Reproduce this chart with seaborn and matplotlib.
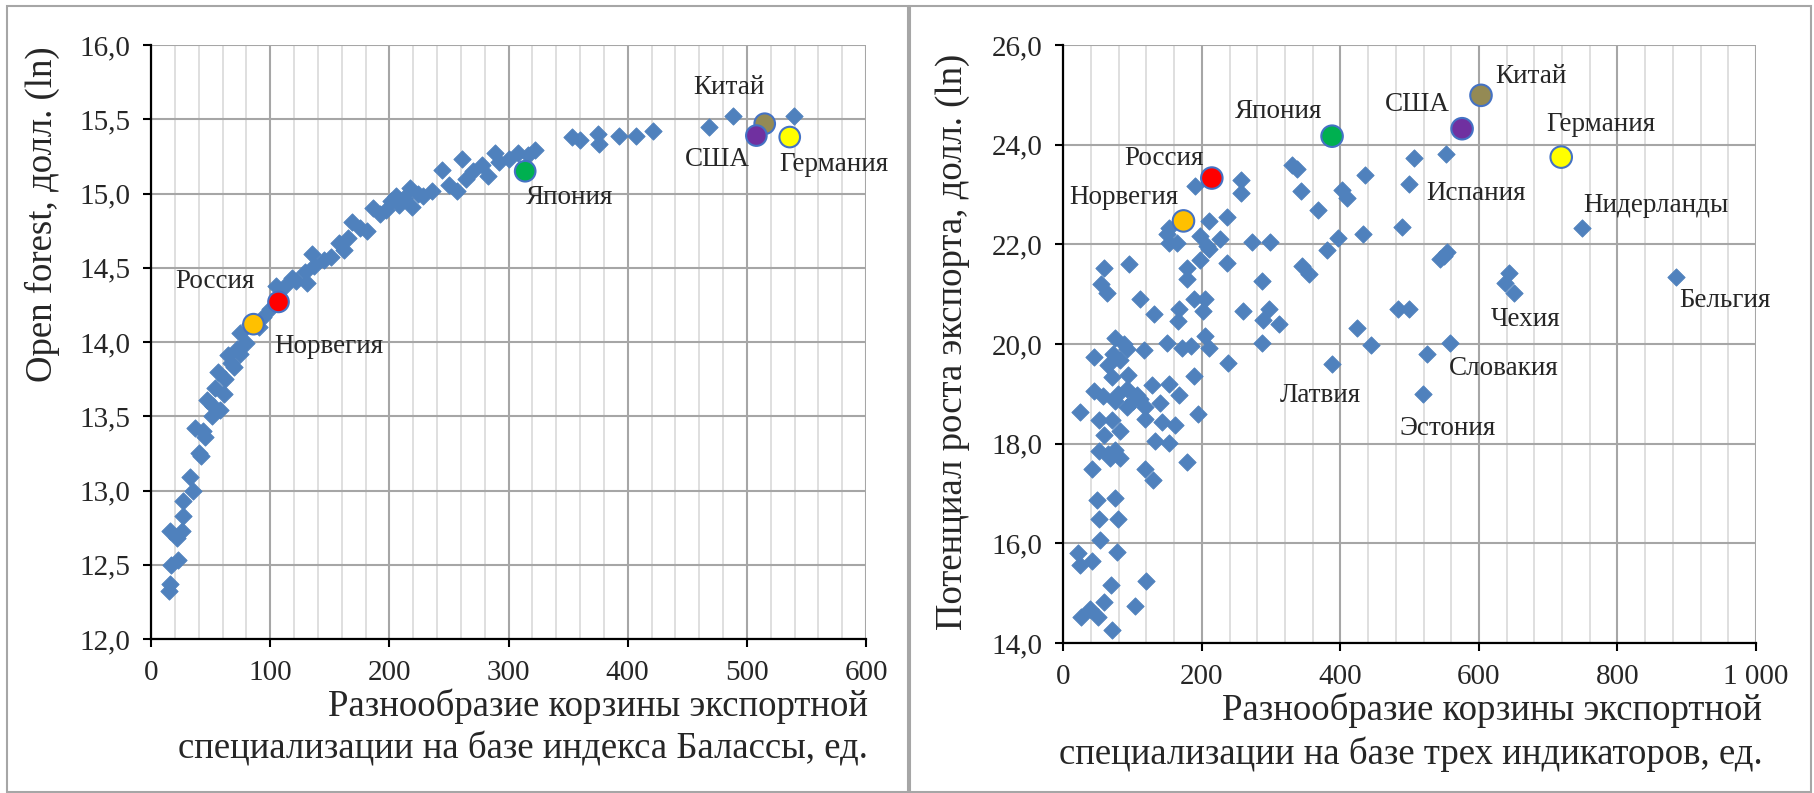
import matplotlib
matplotlib.use("Agg")
import matplotlib.pyplot as plt
import seaborn as sns
import pandas as pd
from matplotlib.ticker import MultipleLocator, FixedLocator, FixedFormatter
from matplotlib.patches import Rectangle

# ---------------- data: left panel (Balassa index vs Open forest) ----------------
left_x = [15, 16, 17, 23, 16, 22, 26, 27, 27, 33, 35.5, 40, 42, 37, 45, 47, 51, 58, 54, 61,
          56, 62, 65, 70, 75, 75, 80, 83, 91, 94, 100, 105, 112, 122, 129, 131, 135, 137, 151, 158,
          162, 169, 181, 186, 197, 206, 208, 217, 219, 228, 236, 244, 257, 261, 264, 278,
          283, 289, 292, 308, 322, 353, 360, 375, 376, 393, 407, 421, 468, 488, 539.5,
          44, 52, 67, 72, 118, 145, 165, 175, 192, 201, 212, 224, 250, 270, 300, 316]
left_y = [12.32, 12.37, 12.50, 12.53, 12.73, 12.68, 12.73, 12.83, 12.93, 13.09, 13.00, 13.25, 13.23,
          13.42, 13.36, 13.61, 13.50, 13.54, 13.69, 13.65, 13.80, 13.75, 13.91, 13.83, 13.92, 14.06,
          13.99, 14.12, 14.10, 14.17, 14.22, 14.38, 14.37, 14.41, 14.47, 14.40, 14.59, 14.51, 14.57,
          14.67, 14.62, 14.81, 14.75, 14.90, 14.89, 14.98, 14.92, 15.04, 14.91, 14.98, 15.02, 15.16,
          15.02, 15.23, 15.10, 15.19, 15.12, 15.27, 15.21, 15.27, 15.29, 15.38, 15.36, 15.40, 15.33,
          15.39, 15.39, 15.42, 15.45, 15.52, 15.52,
          13.40, 13.57, 13.86, 13.95, 14.43, 14.55, 14.70, 14.77, 14.86, 14.95, 14.97, 15.00,
          15.06, 15.15, 15.23, 15.26]

countries = ["Норвегия", "Россия", "Япония", "Китай", "США", "Германия"]
left_cx = [86, 107, 314, 515, 508, 536]
left_cy = [14.12, 14.27, 15.15, 15.47, 15.39, 15.38]

# ---------------- data: right panel (three indicators vs export potential) ----------------
right_x = [190, 256, 256, 330, 338, 343, 367, 210, 236, 152, 149, 152, 164, 197, 207, 226, 210,
           272, 299, 380, 197, 236, 178, 178, 59, 95, 55, 63, 344, 354, 287, 111, 188, 204, 131,
           167, 166, 202, 260, 297, 289, 311, 74, 87, 72, 82, 65, 92, 70, 94, 45, 149, 117, 172,
           185, 205, 210, 287, 238, 188, 128, 152,
           44, 58, 79, 92, 106, 167, 24, 92, 118, 140, 51, 70, 118, 142, 161, 194, 82, 59, 132,
           153, 51, 65, 75, 82, 67, 41, 178, 118, 130, 48, 75, 51, 79, 53, 21, 24, 41, 77, 69,
           119, 59, 104, 26, 39, 50, 71, 75, 100, 111,
           507, 553, 436, 402, 409, 489, 397, 433, 554, 544, 550, 644, 638, 483, 499, 424, 444,
           525]
right_y = [23.17, 23.30, 23.03, 23.60, 23.52, 23.07, 22.68, 22.47, 22.55, 22.33, 22.20, 22.03,
           22.03, 22.17, 21.97, 22.10, 21.90, 22.05, 22.05, 21.88, 21.68, 21.63, 21.53, 21.30,
           21.53, 21.61, 21.20, 21.03, 21.57, 21.41, 21.27, 20.90, 20.90, 20.90, 20.61, 20.70,
           20.47, 20.67, 20.67, 20.70, 20.48, 20.40, 20.13, 20.00, 19.80, 19.67, 19.57, 19.90,
           19.33, 19.37, 19.73, 20.03, 19.88, 19.92, 19.95, 20.17, 19.92, 20.03, 19.61, 19.35,
           19.17, 19.20,
           19.05, 18.95, 19.00, 19.10, 18.97, 18.97, 18.63, 18.73, 18.73, 18.81, 18.47, 18.47,
           18.50, 18.43, 18.38, 18.59, 18.25, 18.17, 18.05, 18.01, 17.85, 17.80, 17.87, 17.72,
           17.72, 17.50, 17.63, 17.50, 17.27, 16.87, 16.90, 16.48, 16.48, 16.07, 15.80, 15.57,
           15.65, 15.83, 15.17, 15.25, 14.83, 14.75, 14.53, 14.68, 14.52, 14.27, 18.85, 18.85,
           18.90,
           23.73, 23.82, 23.40, 23.10, 22.92, 22.35, 22.13, 22.21, 21.85, 21.70, 21.77, 21.43,
           21.23, 20.70, 20.70, 20.33, 19.98, 19.79]

named = ["Испания", "Нидерланды", "Чехия", "Словакия", "Латвия", "Эстония", "Бельгия"]
named_x = [498.6, 749, 650, 558, 388, 519, 885]
named_y = [23.21, 22.33, 21.03, 20.03, 19.60, 19.00, 21.35]

right_cx = [173.5, 214.4, 388, 603, 575.7, 718.8]
right_cy = [22.47, 23.33, 24.17, 24.99, 24.32, 23.75]

# ---------------- ticks ----------------
left_xticks = [0, 100, 200, 300, 400, 500, 600]
left_xticklabels = ["0", "100", "200", "300", "400", "500", "600"]
left_yticks = [12.0, 12.5, 13.0, 13.5, 14.0, 14.5, 15.0, 15.5, 16.0]
left_yticklabels = ["12,0", "12,5", "13,0", "13,5", "14,0", "14,5", "15,0", "15,5", "16,0"]
right_xticks = [0, 200, 400, 600, 800, 1000]
right_xticklabels = ["0", "200", "400", "600", "800", "1 000"]
right_yticks = [14, 16, 18, 20, 22, 24, 26]
right_yticklabels = ["14,0", "16,0", "18,0", "20,0", "22,0", "24,0", "26,0"]

left_xlabel = "Разнообразие корзины экспортной\nспециализации на базе индекса Балассы, ед."
left_ylabel = "Open forest, долл. (ln)"
right_xlabel = "Разнообразие корзины экспортной\nспециализации на базе трех индикаторов, ед."
right_ylabel = "Потенциал роста экспорта, долл. (ln)"

# ---------------- styles ----------------
country_colors = {"Норвегия": "#FFC000", "Россия": "#FF0000", "Япония": "#00B050",
                  "Китай": "#948A54", "США": "#7030A0", "Германия": "#FFFF00"}
diamond_color = "#4F81BD"
circle_edge = "#4472C4"

left_offsets = {"Китай": (-25.9, 25.9), "США": (-28.1, -17.3), "Германия": (32.0, -19.4),
                "Япония": (31.7, -18.7), "Россия": (-45.4, 14.4), "Норвегия": (54.0, -15.8)}
right_offsets = {"Китай": (36.0, 13.7), "США": (-32.4, 17.3), "Германия": (28.8, 23.8),
                 "Япония": (-38.9, 18.0), "Россия": (-34.6, 14.4), "Норвегия": (-43.2, 16.6)}
named_offsets = {"Испания": (48.2, -6.5), "Нидерланды": (53.3, 15.8), "Чехия": (8.6, -19.4),
                 "Словакия": (38.9, -18.7), "Латвия": (-8.6, -23.0), "Эстония": (18.0, -25.2),
                 "Бельгия": (35.3, -17.3)}

sns.set_style("white")
plt.rcParams["font.family"] = ["Liberation Serif", "DejaVu Serif"]

W, H = 1814, 793
fig = plt.figure(figsize=(W / 100, H / 100), dpi=100)
axL = fig.add_axes([151 / W, 1 - 639 / H, 715 / W, 594 / H])
axR = fig.add_axes([1063.3 / W, 1 - 643 / H, 692.7 / W, 598 / H])

# panel borders
for x0, x1 in [(7, 908), (910, 1811)]:
    fig.add_artist(Rectangle((x0 / W, 1 / H), (x1 - x0) / W, (786) / H,
                             transform=fig.transFigure, fill=False,
                             edgecolor="#A6A6A6", linewidth=1.5))


def style_axis(ax, xlim, ylim, xt, xtl, yt, ytl, minor_step):
    ax.set_xlim(*xlim)
    ax.set_ylim(*ylim)
    ax.xaxis.set_major_locator(FixedLocator(xt))
    ax.xaxis.set_major_formatter(FixedFormatter(xtl))
    ax.yaxis.set_major_locator(FixedLocator(yt))
    ax.yaxis.set_major_formatter(FixedFormatter(ytl))
    ax.xaxis.set_minor_locator(MultipleLocator(minor_step))
    ax.set_axisbelow(True)
    ax.grid(which="minor", axis="x", color="#D9D9D9", linewidth=1.2)
    ax.grid(which="major", axis="both", color="#A6A6A6", linewidth=1.5)
    for s in ["top", "right"]:
        ax.spines[s].set_visible(False)
    for s in ["left", "bottom"]:
        ax.spines[s].set_color("black")
        ax.spines[s].set_linewidth(1.6)
    ax.tick_params(which="major", direction="out", length=6, width=1.5, color="black",
                   labelsize=21, pad=9, bottom=True, left=True)
    ax.tick_params(which="minor", length=0)
    ax.set_xlabel("")
    ax.set_ylabel("")


# left panel
dfL = pd.DataFrame({"x": left_x, "y": left_y})
sns.scatterplot(data=dfL, x="x", y="y", ax=axL, marker="D", s=78, color=diamond_color,
                edgecolor=diamond_color, linewidth=0.6, zorder=3)
dfLc = pd.DataFrame({"x": left_cx, "y": left_cy, "country": countries})
sns.scatterplot(data=dfLc, x="x", y="y", hue="country", palette=country_colors, ax=axL,
                s=220, edgecolor=circle_edge, linewidth=1.5, legend=False, zorder=4)
style_axis(axL, (0, 600), (12, 16), left_xticks, left_xticklabels, left_yticks,
           left_yticklabels, 20)
for c, x, y in zip(countries, left_cx, left_cy):
    axL.annotate(c, (x, y), xytext=left_offsets[c], textcoords="offset points",
                 ha="center", va="center", fontsize=19.5, zorder=5)
axL.text(-0.152, 0.997, left_ylabel, transform=axL.transAxes, rotation=90,
         ha="center", va="top", fontsize=26.5)
axL.text(1.003, -0.083, left_xlabel, transform=axL.transAxes, ha="right", va="top",
         multialignment="right", fontsize=26.5, linespacing=1.3)

# right panel
dfR = pd.DataFrame({"x": right_x + named_x, "y": right_y + named_y})
sns.scatterplot(data=dfR, x="x", y="y", ax=axR, marker="D", s=78, color=diamond_color,
                edgecolor=diamond_color, linewidth=0.6, zorder=3)
dfRc = pd.DataFrame({"x": right_cx, "y": right_cy, "country": countries})
sns.scatterplot(data=dfRc, x="x", y="y", hue="country", palette=country_colors, ax=axR,
                s=240, edgecolor=circle_edge, linewidth=1.5, legend=False, zorder=4)
style_axis(axR, (0, 1000), (14, 26), right_xticks, right_xticklabels, right_yticks,
           right_yticklabels, 40)
for c, x, y in zip(countries, right_cx, right_cy):
    axR.annotate(c, (x, y), xytext=right_offsets[c], textcoords="offset points",
                 ha="center", va="center", fontsize=19.5, zorder=5)
for c, x, y in zip(named, named_x, named_y):
    axR.annotate(c, (x, y), xytext=named_offsets[c], textcoords="offset points",
                 ha="center", va="center", fontsize=19.5, zorder=5)
axR.text(-0.159, 0.503, right_ylabel, transform=axR.transAxes, rotation=90,
         ha="center", va="center", fontsize=26.5)
axR.text(1.009, -0.083, right_xlabel, transform=axR.transAxes, ha="right", va="top",
         multialignment="right", fontsize=26.5, linespacing=1.3)

fig.savefig("out.png", dpi=100)
